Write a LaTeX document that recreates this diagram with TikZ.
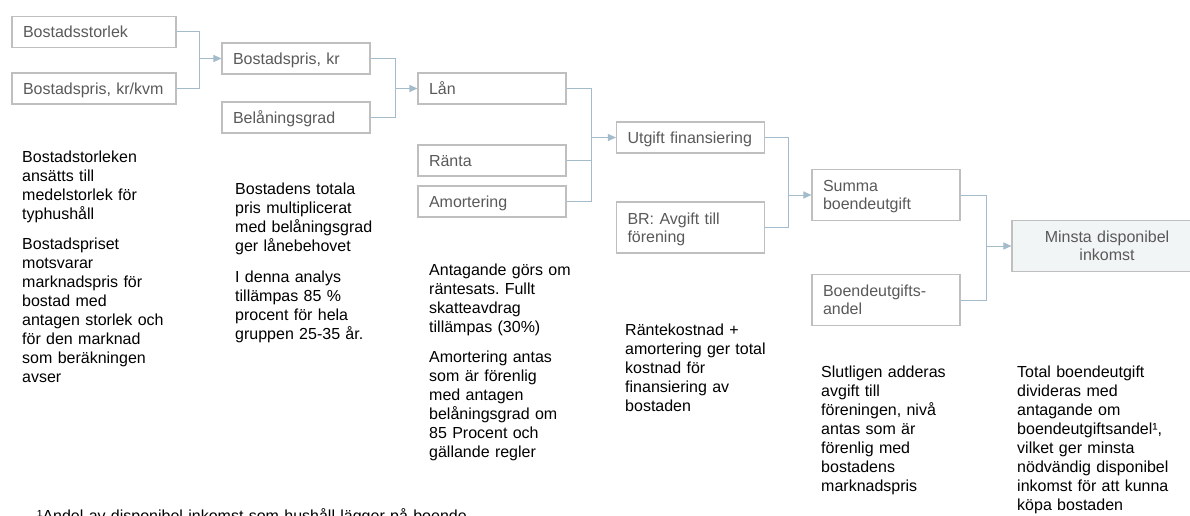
\documentclass[tikz,border=0pt]{standalone}
\usepackage{fontspec}
\setmainfont{Liberation Sans}
\usetikzlibrary{arrows.meta}
\frenchspacing

\definecolor{boxline}{HTML}{BFBFBF}
\definecolor{boxtext}{HTML}{595959}
\definecolor{conline}{HTML}{A3BBCB}
\definecolor{endfill}{HTML}{F2F5F6}

\begin{document}
\begin{tikzpicture}[x=1pt,y=-1pt,
  blk/.style={draw=boxline,line width=1.1pt,text=boxtext,align=left,
    inner xsep=11pt,inner ysep=0pt,minimum height=31pt,
    text height=11.6pt,text depth=0pt,font=\fontsize{16}{18}\selectfont},
  blkw/.style={blk,text width=142pt},
  blkn/.style={blk,text width=126pt},
  two/.style={text depth=18pt,minimum height=51pt},
  conn/.style={draw=conline,line width=1pt},
  arr/.style={conn,-{Triangle[length=8pt,width=7pt]}},
  note/.style={anchor=base west,align=left,inner sep=0pt,text width=172pt,
    font=\fontsize{16}{19}\selectfont}]
\useasboundingbox (0,0) rectangle (1190,516);

\node[blkw](A1) at (94,32){Bostadsstorlek};
\node[blkw](A2) at (94,88.5){Bostadspris, kr/kvm};
\node[blkn](B1) at (296,58.5){Bostadspris, kr};
\node[blkn](B2) at (296,117.5){Belåningsgrad};
\node[blkn](C1) at (492,88.5){Lån};
\node[blkn](C2) at (492,160.5){Ränta};
\node[blkn](C3) at (492,201.5){Amortering};
\node[blkn](D1) at (690.5,137.5){Utgift finansiering};
\node[blkn,two](D2) at (690.5,227.5){BR: Avgift till\\förening};
\node[blkn,two](E1) at (886,195){Summa\\boendeutgift};
\node[blkn,two](E2) at (886,300){Boendeutgifts-\\andel};
\node[blk,two,fill=endfill,align=center,text width=168pt](F1) at (1107,246){Minsta disponibel\\inkomst};

\coordinate(J1) at (199,58.5);
\coordinate(J2) at (395,88.5);
\coordinate(J3) at (591,137.5);
\coordinate(J4) at (788,195);
\coordinate(J5) at (986,246);

\draw[conn](A1.east) -| (J1);
\draw[conn](A2.east) -| (J1);
\draw[arr](J1)--(B1);
\draw[conn](B1.east) -| (J2);
\draw[conn](B2.east) -| (J2);
\draw[arr](J2)--(C1);
\draw[conn](C1.east) -| (J3);
\draw[conn](C2.east) -| (J3);
\draw[conn](C3.east) -| (J3);
\draw[arr](J3)--(D1);
\draw[conn](D1.east) -| (J4);
\draw[conn](D2.east) -| (J4);
\draw[arr](J4)--(E1);
\draw[conn](E1.east) -| (J5);
\draw[conn](E2.east) -| (J5);
\draw[arr](J5)--(F1);

\node[note](N1a) at (22,162){Bostadstorleken\\ansätts till\\medelstorlek för\\typhushåll};
\node[note](N1b) at (22,249){Bostadspriset\\motsvarar\\marknadspris för\\bostad med\\antagen storlek och\\för den marknad\\som beräkningen\\avser};
\node[note](N2a) at (235,194){Bostadens totala\\pris multiplicerat\\med belåningsgrad\\ger lånebehovet};
\node[note](N2b) at (235,282){I denna analys\\tillämpas 85 \%\\procent för hela\\gruppen 25-35 år.};
\node[note](N3a) at (429,275){Antagande görs om\\räntesats. Fullt\\skatteavdrag\\tillämpas (30\%)};
\node[note](N3b) at (429,362){Amortering antas\\som är förenlig\\med antagen\\belåningsgrad om\\85 Procent och\\gällande regler};
\node[note](N4) at (625,335){Räntekostnad +\\amortering ger total\\kostnad för\\finansiering av\\bostaden};
\node[note](N5) at (821,377){Slutligen adderas\\avgift till\\föreningen, nivå\\antas som är\\förenlig med\\bostadens\\marknadspris};
\node[note](N6) at (1017,377){Total boendeutgift\\divideras med\\antagande om\\boendeutgiftsandel¹,\\vilket ger minsta\\nödvändig disponibel\\inkomst för att kunna\\köpa bostaden};
\node[note,text width=500pt](FN) at (37,521){¹Andel av disponibel inkomst som hushåll lägger på boende};
\end{tikzpicture}
\end{document}
